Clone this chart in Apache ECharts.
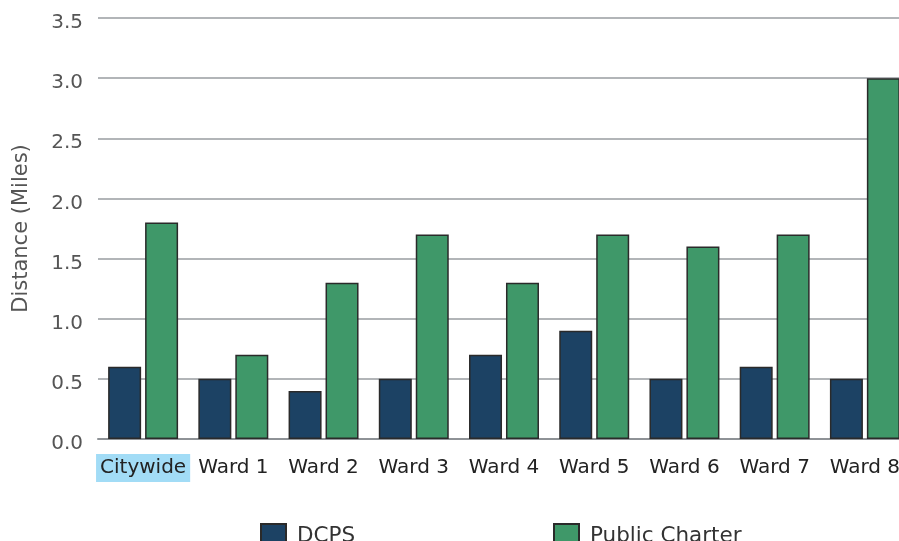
<!DOCTYPE html>
<html lang="en">
<head>
    <meta charset="UTF-8">
    <title>Distance by ward</title>
    <style>
        html, body { margin: 0; padding: 0; overflow: hidden; background: #fff; }
    </style>
</head>
<body>
    <div id="echartsView" style="width: 910px; height: 570px;"></div>
    <script src="https://cdn.jsdelivr.net/npm/echarts@6/dist/echarts.min.js"></script>
    <script>
        // chart data
        const categories = ['Citywide', 'Ward 1', 'Ward 2', 'Ward 3', 'Ward 4', 'Ward 5', 'Ward 6', 'Ward 7', 'Ward 8'];
        const dcpsValues = [0.6, 0.5, 0.4, 0.5, 0.7, 0.9, 0.5, 0.6, 0.5];
        const charterValues = [1.8, 0.7, 1.3, 1.7, 1.3, 1.7, 1.6, 1.7, 3.0];
        const seriesNames = ['DCPS', 'Public Charter'];
        const yTicks = [0, 0.5, 1.0, 1.5, 2.0, 2.5, 3.0, 3.5];

        const fontName = '"DejaVu Sans", sans-serif';

        function legendFor(name, left) {
            return {
                data: [name], left: left, top: 518, itemWidth: 25, itemHeight: 25,
                icon: 'rect',
                textStyle: { fontSize: 21.5, color: '#333', fontFamily: fontName, padding: [3, 0, 0, 6] }
            };
        }

        function getOption() {
            return {
                animation: false,
                textStyle: { fontFamily: fontName },
                grid: { left: 98, right: 0, top: 18, height: 421 },
                legend: [legendFor(seriesNames[0], 255), legendFor(seriesNames[1], 548)],
                xAxis: {
                    type: 'category',
                    data: categories,
                    axisTick: { show: false },
                    axisLine: { lineStyle: { color: '#8e9296', width: 2 } },
                    axisLabel: {
                        margin: 15, fontSize: 20, color: '#222', interval: 0,
                        formatter: function (v, i) { return i === 0 ? '{hl|' + v + '}' : '{n|' + v + '}'; },
                        rich: {
                            hl: { backgroundColor: '#a2dcf6', padding: [4, 4, 4, 4], fontSize: 20, color: '#222' },
                            n: { padding: [4, 0, 4, 0], fontSize: 20, color: '#222' }
                        }
                    }
                },
                yAxis: {
                    type: 'value',
                    min: yTicks[0],
                    max: yTicks[yTicks.length - 1],
                    interval: 0.5,
                    name: 'Distance (Miles)',
                    nameLocation: 'middle',
                    nameGap: 66,
                    nameTextStyle: { fontSize: 21, color: '#555' },
                    axisLine: { show: false },
                    axisTick: { show: false },
                    axisLabel: {
                        margin: 15, formatter: v => '{t|' + v.toFixed(1) + '}',
                        rich: { t: { fontSize: 20, color: '#555', padding: [10, 0, 0, 0] } }
                    },
                    splitLine: { lineStyle: { color: '#999da1', width: 1.5 } }
                },
                series: [
                    {
                        name: seriesNames[0], type: 'bar', data: dcpsValues,
                        barWidth: 33, barGap: '12%',
                        itemStyle: { color: '#1c4264', borderColor: '#2a2a2a', borderWidth: 1.5 }
                    },
                    {
                        name: seriesNames[1], type: 'bar', data: charterValues,
                        barWidth: 33, barGap: '12%',
                        itemStyle: { color: '#3f9869', borderColor: '#2a2a2a', borderWidth: 1.5 }
                    }
                ]
            };
        }

        let myChart = echarts.init(document.getElementById('echartsView'));
        myChart.setOption(getOption());
    </script>
</body>
</html>
